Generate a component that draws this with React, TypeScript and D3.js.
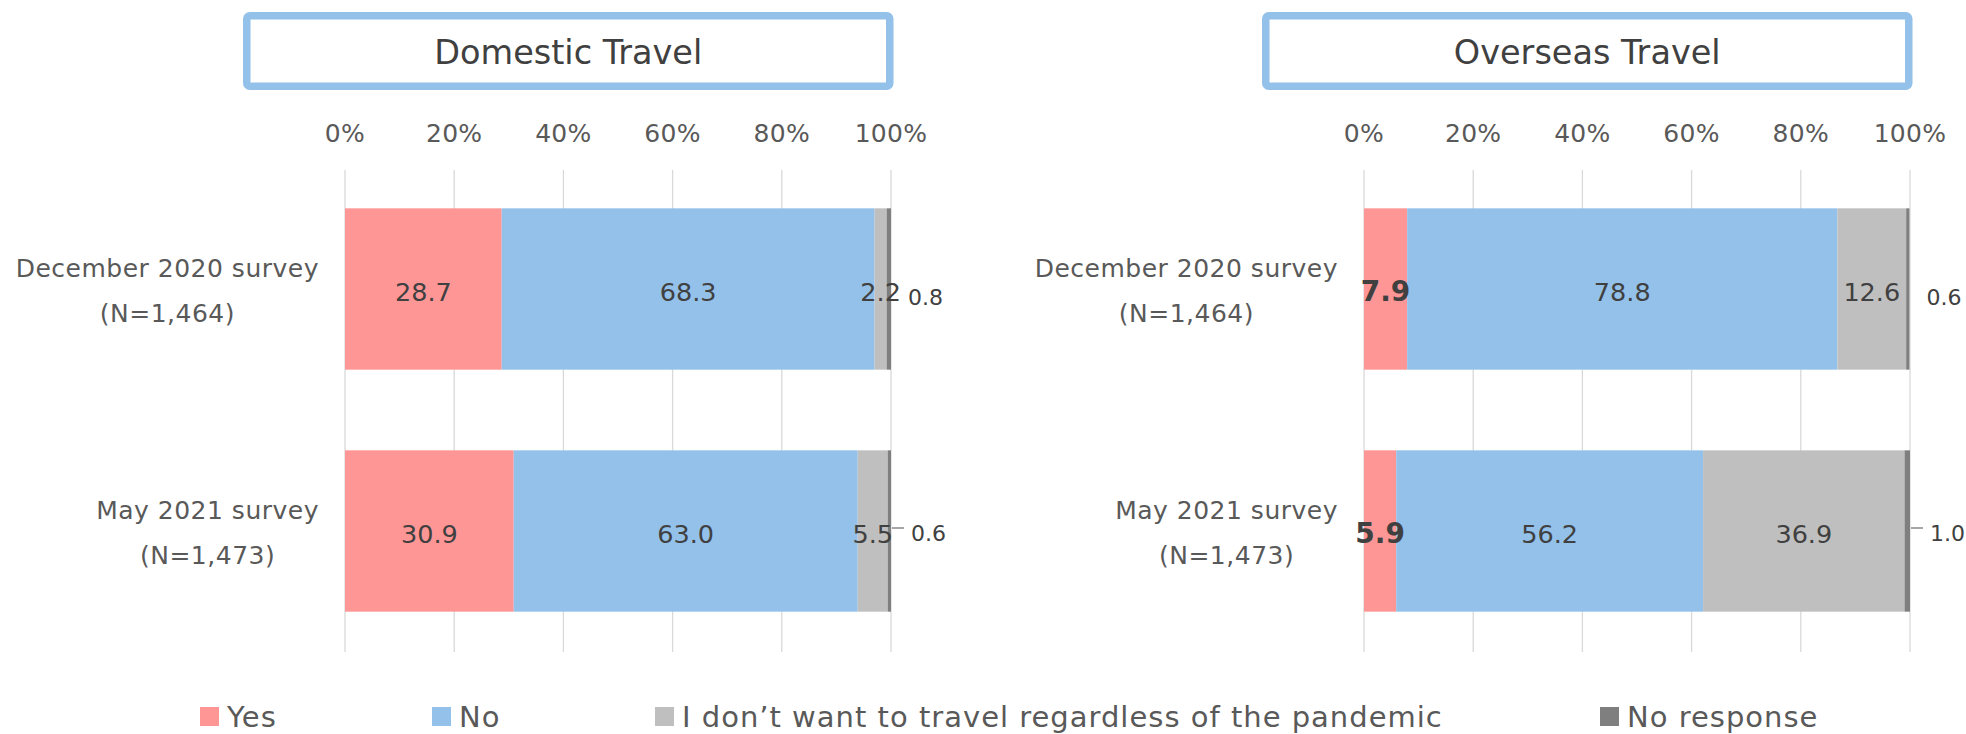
import React, { useEffect, useRef } from 'react';
import * as d3 from 'd3';

const categories = ['December 2020 survey', 'May 2021 survey'];
const sampleSizes = ['(N=1,464)', '(N=1,473)'];
const seriesNames = ['Yes', 'No', 'I don’t want to travel regardless of the pandemic', 'No response'];
const seriesColors = ['#FF9696', '#93C1EA', '#BFBFBF', '#7F7F7F'];
const domesticYes = [28.7, 30.9];
const domesticNo = [68.3, 63.0];
const domesticDont = [2.2, 5.5];
const domesticNoResp = [0.8, 0.6];
const overseasYes = [7.9, 5.9];
const overseasNo = [78.8, 56.2];
const overseasDont = [12.6, 36.9];
const overseasNoResp = [0.6, 1.0];
const tickValues = [0, 20, 40, 60, 80, 100];
const panelTitles = ['Domestic Travel', 'Overseas Travel'];

const FONT = '"DejaVu Sans", Verdana, sans-serif';

export default function App() {
  const ref = useRef<SVGSVGElement>(null);

  useEffect(() => {
    const svg = d3.select(ref.current);
    svg.selectAll('*').remove();

    const panels = [
      { title: panelTitles[0], range: [345, 891], series: [domesticYes, domesticNo, domesticDont, domesticNoResp], boldYes: false },
      { title: panelTitles[1], range: [1364, 1910], series: [overseasYes, overseasNo, overseasDont, overseasNoResp], boldYes: true },
    ];

    const y = d3.scaleBand<string>().domain(categories).range([168, 652]).paddingInner(1 / 3).paddingOuter(1 / 6);

    panels.forEach((p) => {
      const x = d3.scaleLinear().domain([0, 100]).range(p.range as [number, number]);
      const g = svg.append('g');

      // title box
      const bx0 = x(0) - 102;
      const bx1 = x(100) + 2.5;
      const sw = 7.5;
      g.append('rect')
        .attr('x', bx0 + sw / 2).attr('y', 12 + sw / 2)
        .attr('width', bx1 - bx0 - sw).attr('height', 78 - sw)
        .attr('rx', 3)
        .attr('fill', '#fff').attr('stroke', '#93C1EA').attr('stroke-width', sw);
      g.append('text')
        .attr('x', (bx0 + bx1) / 2).attr('y', 64)
        .attr('text-anchor', 'middle')
        .attr('font-family', FONT).attr('font-size', 33.5)
        .attr('fill', '#404040')
        .text(p.title);

      // gridlines
      g.selectAll('line.grid').data(tickValues).enter().append('line')
        .attr('x1', (d) => x(d)).attr('x2', (d) => x(d))
        .attr('y1', 170).attr('y2', 652)
        .attr('stroke', '#D9D9D9').attr('stroke-width', 1.3);
      // tick labels
      g.selectAll('text.tick').data(tickValues).enter().append('text')
        .attr('x', (d) => x(d)).attr('y', 142)
        .attr('text-anchor', 'middle')
        .attr('font-family', FONT).attr('font-size', 25)
        .attr('letter-spacing', 0.3)
        .attr('fill', '#595959')
        .text((d) => `${d}%`);

      categories.forEach((cat, i) => {
        const y0 = y(cat)!;
        const bh = y.bandwidth();
        const cy = y0 + bh / 2;
        let cum = 0;
        p.series.forEach((s, k) => {
          const v = s[i];
          const xa = x(cum);
          const xb = x(cum + v);
          g.append('rect')
            .attr('x', xa).attr('y', y0)
            .attr('width', Math.max(0, xb - xa)).attr('height', bh)
            .attr('fill', seriesColors[k]);
          cum += v;
        });
        // labels
        cum = 0;
        p.series.forEach((s, k) => {
          const v = s[i];
          const xa = x(cum);
          const xb = x(cum + v);
          cum += v;
          if (k < 3) {
            const bold = k === 0 && p.boldYes;
            g.append('text')
              .attr('x', (xa + xb) / 2).attr('y', cy + 12)
              .attr('text-anchor', 'middle')
              .attr('font-family', FONT)
              .attr('font-size', bold ? 28 : 25.5)
              .attr('font-weight', bold ? 'bold' : 'normal')
              .attr('fill', '#404040')
              .text(v.toFixed(1));
          } else {
            if (i === 1) {
              g.append('line')
                .attr('x1', xb + 1).attr('x2', xb + 13)
                .attr('y1', cy - 3).attr('y2', cy - 3)
                .attr('stroke', '#A6A6A6').attr('stroke-width', 2);
              g.append('text')
                .attr('x', xb + 20).attr('y', cy + 10)
                .attr('font-family', FONT).attr('font-size', 22)
                .attr('fill', '#404040')
                .text(v.toFixed(1));
            } else {
              g.append('text')
                .attr('x', xb + 17).attr('y', cy + 16)
                .attr('font-family', FONT).attr('font-size', 22)
                .attr('fill', '#404040')
                .text(v.toFixed(1));
            }
          }
        });

        // category labels
        const right = x(0) - 26;
        const t1 = g.append('text')
          .attr('x', right).attr('y', cy - 12)
          .attr('text-anchor', 'end')
          .attr('font-family', FONT).attr('font-size', 25)
          .attr('letter-spacing', 0.5)
          .attr('fill', '#595959')
          .text(cat);
        const w1 = (t1.node() as SVGTextElement).getComputedTextLength();
        g.append('text')
          .attr('x', right - w1 / 2).attr('y', cy + 33)
          .attr('text-anchor', 'middle')
          .attr('font-family', FONT).attr('font-size', 25)
          .attr('letter-spacing', 0.5)
          .attr('fill', '#595959')
          .text(sampleSizes[i]);
      });
    });

    // legend
    const legendX = [200, 432, 655, 1600];
    const lg = svg.append('g');
    seriesNames.forEach((name, k) => {
      lg.append('rect')
        .attr('x', legendX[k]).attr('y', 707)
        .attr('width', 19).attr('height', 19)
        .attr('fill', seriesColors[k]);
      lg.append('text')
        .attr('x', legendX[k] + 27).attr('y', 727)
        .attr('font-family', FONT).attr('font-size', 29)
        .attr('letter-spacing', 1)
        .attr('fill', '#595959')
        .text(name);
    });
  }, []);

  return (
    <svg
      ref={ref}
      width={1966}
      height={734}
      style={{ position: 'absolute', left: 0, top: 0, background: '#fff' }}
    />
  );
}
